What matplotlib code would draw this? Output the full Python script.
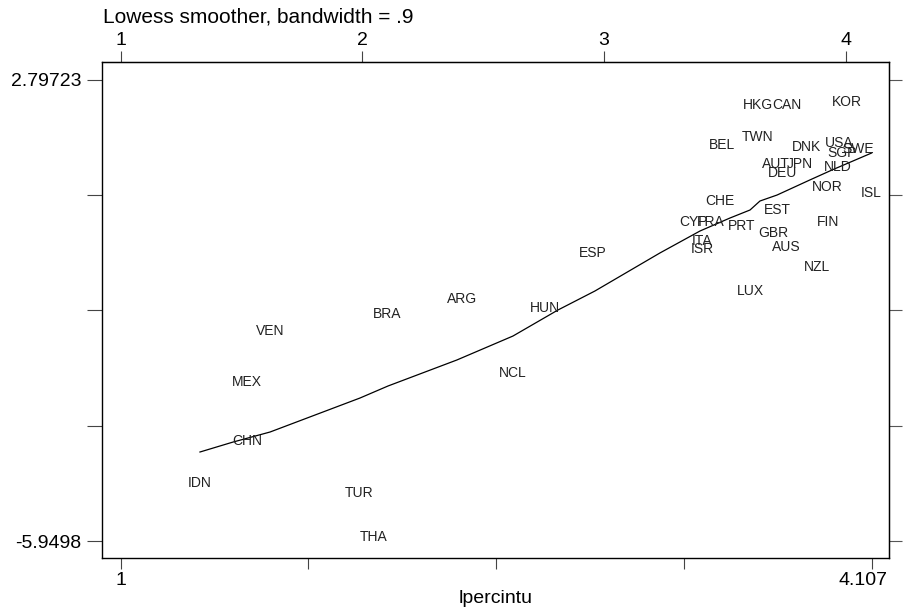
import matplotlib
matplotlib.use("Agg")
import matplotlib.pyplot as plt
import matplotlib.transforms as mtransforms
import numpy as np

plt.rcParams['font.family'] = ['Liberation Sans', 'DejaVu Sans']

# Country labels and their (lpercintu, y) values
countries = ["KOR", "HKG", "CAN", "TWN", "BEL", "DNK", "USA", "SGP", "SWE",
             "AUT", "JPN", "DEU", "NLD", "NOR", "ISL", "CHE", "EST", "FIN",
             "CYP", "FRA", "PRT", "GBR", "ITA", "ISR", "AUS", "NZL", "LUX",
             "ESP", "ARG", "HUN", "BRA", "VEN", "MEX", "NCL", "CHN", "IDN",
             "TUR", "THA"]
x_vals = [4.005, 3.637, 3.757, 3.637, 3.488, 3.839, 3.972, 3.984, 4.050,
          3.711, 3.811, 3.740, 3.968, 3.922, 4.107, 3.480, 3.719, 3.926,
          3.372, 3.442, 3.571, 3.699, 3.405, 3.405, 3.753, 3.881, 3.604,
          2.954, 2.412, 2.755, 2.102, 1.618, 1.523, 2.623, 1.523, 1.328,
          1.986, 2.048]
y_vals = [2.371, 2.314, 2.314, 1.707, 1.556, 1.518, 1.594, 1.404, 1.480,
          1.196, 1.196, 1.025, 1.139, 0.760, 0.646, 0.494, 0.324, 0.096,
          0.096, 0.096, 0.020, -0.112, -0.264, -0.416, -0.378, -0.757, -1.212,
          -0.491, -1.363, -1.534, -1.648, -1.970, -2.936, -2.766, -4.055, -4.851,
          -5.040, -5.874]

# Lowess smoothed curve
fit_x = [1.328, 1.465, 1.618, 1.990, 2.106, 2.391, 2.623, 2.809, 2.962,
         3.231, 3.397, 3.521, 3.604, 3.645, 3.716, 3.851, 3.943, 4.107]
fit_y = [-4.263, -4.074, -3.884, -3.240, -3.012, -2.519, -2.065, -1.572, -1.212,
         -0.491, -0.074, 0.172, 0.324, 0.494, 0.608, 0.892, 1.082, 1.404]

y_min, y_max = -5.9498, 2.79723
x_min, x_max = 1.0, 4.107
top_ticks = [1, 2, 3, 4]

fig = plt.figure(figsize=(9.05, 6.12), dpi=100)
ax = fig.add_axes([102/905, 1 - 558/612, (889 - 102)/905, (558 - 62)/612])

ax.plot(fit_x, fit_y, color='black', lw=0.9)
for c, xv, yv in zip(countries, x_vals, y_vals):
    ax.text(xv, yv, c, ha='center', va='center', fontsize=10, color='#222222')

ax.set_xlim(0.9226, 4.179)
ax.set_ylim(-6.272, 3.129)

yt = np.linspace(y_max, y_min, 5)
ax.set_yticks(yt)
ax.set_yticklabels(["2.79723", "", "", "", "-5.9498"])
xt = np.linspace(x_min, x_max, 5)
ax.set_xticks(xt)
ax.set_xticklabels(["1", "", "", "", "4.107"])

ax.tick_params(axis='y', which='both', left=True, right=False, direction='out',
               length=10.8, width=0.8, color='#444444', labelsize=14, pad=4)
ax.tick_params(axis='x', which='both', bottom=True, direction='out',
               length=8, width=0.8, color='#444444', labelsize=14, pad=2)
for s in ax.spines.values():
    s.set_linewidth(1.0)
    s.set_color('black')

# shift the last x tick label left like the reference
last_lbl = ax.get_xticklabels()[-1]
last_lbl.set_transform(last_lbl.get_transform() +
                       mtransforms.ScaledTranslation(-9/100, 0, fig.dpi_scale_trans))

sec_r = ax.secondary_yaxis('right')
sec_r.set_yticks(yt)
sec_r.set_yticklabels([])
sec_r.tick_params(direction='out', length=9.4, width=0.8, color='#555555')

sec = ax.secondary_xaxis('top')
sec.set_xticks(top_ticks)
sec.set_xticklabels([str(t) for t in top_ticks])
sec.tick_params(direction='out', length=8, width=0.8, color='#444444',
                labelsize=14, pad=1)

ax.set_xlabel("lpercintu", fontsize=14, labelpad=1)
fig.text(103/905, 1 - 17/612, "Lowess smoother, bandwidth = .9",
         fontsize=15, ha='left', va='center')

fig.savefig("out.png", dpi=100, facecolor='white')
